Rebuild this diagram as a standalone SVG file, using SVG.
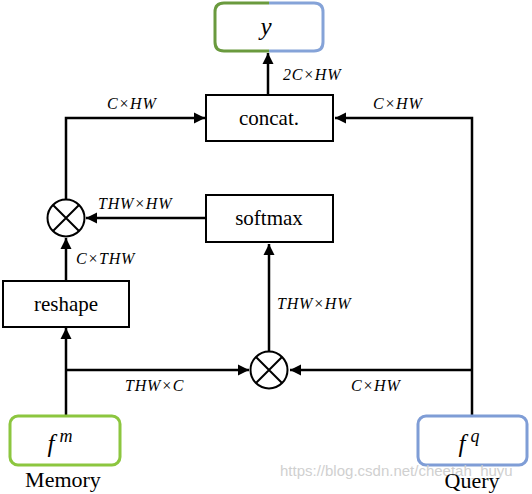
<svg xmlns="http://www.w3.org/2000/svg" width="532" height="494" viewBox="0 0 532 494">
<style>
text{font-family:'Liberation Serif',serif !important}
text.wm{font-family:'Liberation Sans',sans-serif !important}
.box{fill:#fff;stroke:#000;stroke-width:2}
.ln{fill:none;stroke:#000;stroke-width:2.5}
.bt{font-size:21px;text-anchor:middle}
.lb{font-style:italic;font-size:16px;letter-spacing:0.8px}
.mt{font-style:italic;font-size:25px;text-anchor:middle}
.wm{font-size:15px;fill:#d0d0d0}
</style>
<defs>
<marker id="a" viewBox="0 0 10 10" refX="10" refY="5" markerWidth="4.5" markerHeight="4.5" orient="auto">
<path d="M0,0 L10,5 L0,10 z" fill="#000"/>
</marker>
</defs>
<rect width="532" height="494" fill="#fff"/>
<g id="connectors">
<path class="ln" d="M268,95 V53" marker-end="url(#a)"/>
<path class="ln" d="M66,199 V118 H205" marker-end="url(#a)"/>
<path class="ln" d="M472,416 V118 H335" marker-end="url(#a)"/>
<path class="ln" d="M206,218 H86" marker-end="url(#a)"/>
<path class="ln" d="M66,280 V238" marker-end="url(#a)"/>
<path class="ln" d="M66,416 V328" marker-end="url(#a)"/>
<path class="ln" d="M66,370 H249" marker-end="url(#a)"/>
<path class="ln" d="M472,370 H290" marker-end="url(#a)"/>
<path class="ln" d="M269,351 V244" marker-end="url(#a)"/>
</g>
<g id="labels">
<text class="lb" style="font-family:'Liberation Serif',serif" x="283" y="80">2C×HW</text>
<text class="lb" style="font-family:'Liberation Serif',serif" x="107" y="109">C×HW</text>
<text class="lb" style="font-family:'Liberation Serif',serif" x="373" y="109">C×HW</text>
<text class="lb" style="font-family:'Liberation Serif',serif" x="98" y="209">THW×HW</text>
<text class="lb" style="font-family:'Liberation Serif',serif" x="76" y="264">C×THW</text>
<text class="lb" style="font-family:'Liberation Serif',serif" x="277" y="309">THW×HW</text>
<text class="lb" style="font-family:'Liberation Serif',serif" x="125" y="391">THW×C</text>
<text class="lb" style="font-family:'Liberation Serif',serif" x="351" y="391">C×HW</text>
</g>
<g id="node-y">
<path d="M269,3 H224 Q215,3 215,12 V42 Q215,51 224,51 H269" fill="#fff" stroke="#6a9a3e" stroke-width="3"/>
<path d="M269,3 H314 Q323,3 323,12 V42 Q323,51 314,51 H269" fill="none" stroke="#85a3d8" stroke-width="3"/>
<text class="mt" style="font-family:'Liberation Serif',serif" x="266" y="35">y</text>
</g>
<g id="node-concat">
<rect class="box" x="206" y="95" width="127" height="46"/>
<text class="bt" style="font-family:'Liberation Serif',serif" x="269" y="125">concat.</text>
</g>
<g id="node-softmax">
<rect class="box" x="206" y="195" width="127" height="47"/>
<text class="bt" style="font-family:'Liberation Serif',serif" x="269" y="225">softmax</text>
</g>
<g id="node-mul1">
<circle cx="66" cy="218" r="18.5" fill="#fff" stroke="#000" stroke-width="2"/>
<path d="M53,205 L79,231 M79,205 L53,231" stroke="#000" stroke-width="2"/>
</g>
<g id="node-reshape">
<rect class="box" x="3" y="281" width="126" height="46"/>
<text class="bt" style="font-family:'Liberation Serif',serif" x="66" y="311">reshape</text>
</g>
<g id="node-mul2">
<circle cx="269" cy="370" r="18.5" fill="#fff" stroke="#000" stroke-width="2"/>
<path d="M256,357 L282,383 M282,357 L256,383" stroke="#000" stroke-width="2"/>
</g>
<g id="node-memory">
<rect x="10" y="416" width="110" height="49" rx="8" fill="#fff" stroke="#8cc63f" stroke-width="3"/>
<text class="mt" style="font-family:'Liberation Serif',serif" x="60" y="452">f<tspan font-size="18" dy="-10" dx="5">m</tspan></text>
<text class="bt" style="font-family:'Liberation Serif',serif;font-size:22px" x="63" y="487">Memory</text>
</g>
<g id="node-query">
<rect x="418" y="416" width="109" height="49" rx="8" fill="#fff" stroke="#7f9dd6" stroke-width="3"/>
<text class="mt" style="font-family:'Liberation Serif',serif" x="469" y="452">f<tspan font-size="18" dy="-10" dx="5">q</tspan></text>
</g>
<text class="wm" x="280" y="476" style="font-family:'Liberation Sans',sans-serif">https://blog.csdn.net/cheetah_huyu</text>
<text class="bt" style="font-family:'Liberation Serif',serif;font-size:22px" x="472" y="488">Query</text>
</svg>
